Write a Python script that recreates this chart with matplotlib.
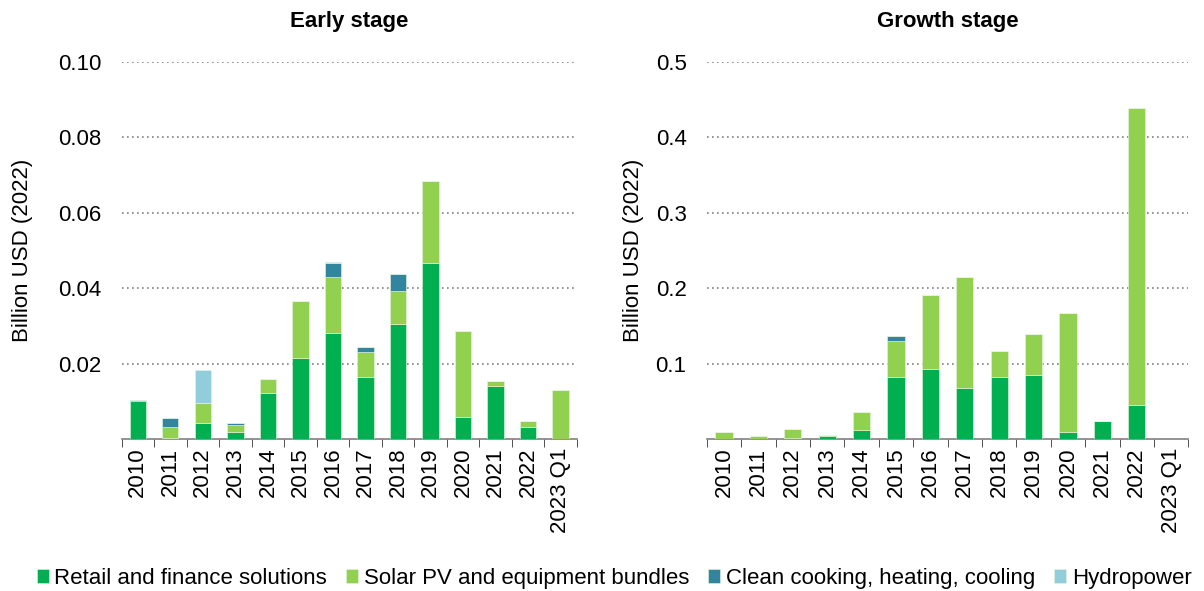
import matplotlib.pyplot as plt
import numpy as np

plt.rcParams['font.family'] = ['Liberation Sans', 'DejaVu Sans']

years = ['2010', '2011', '2012', '2013', '2014', '2015', '2016', '2017',
         '2018', '2019', '2020', '2021', '2022', '2023 Q1']

# Early stage (billion USD 2022)
early_retail = [0.0100, 0.0004, 0.0042, 0.0018, 0.0122, 0.0216, 0.0282, 0.0166,
                0.0306, 0.0468, 0.0058, 0.0140, 0.0032, 0.0]
early_solar = [0.0, 0.0029, 0.0053, 0.0020, 0.0038, 0.0150, 0.0147, 0.0064,
               0.0088, 0.0216, 0.0229, 0.0015, 0.0017, 0.0130]
early_clean = [0.0005, 0.0024, 0.0, 0.0005, 0.0, 0.0, 0.0038, 0.0015,
               0.0045, 0.0, 0.0, 0.0, 0.0, 0.0]
early_hydro = [0.0, 0.0, 0.0088, 0.0, 0.0, 0.0, 0.0002, 0.0,
               0.0, 0.0, 0.0, 0.0, 0.0, 0.0]

# Growth stage
growth_retail = [0.0, 0.0005, 0.001, 0.0035, 0.0115, 0.0826, 0.0932, 0.0672,
                 0.0826, 0.0853, 0.0088, 0.0239, 0.0446, 0.0]
growth_solar = [0.0093, 0.003, 0.013, 0.0013, 0.024, 0.047, 0.0973, 0.1476,
                0.0336, 0.0547, 0.159, 0.0, 0.3944, 0.0]
growth_clean = [0.0, 0.0, 0.0, 0.0, 0.0, 0.0066, 0.0, 0.0,
                0.0, 0.0, 0.0, 0.0, 0.0, 0.0]
growth_hydro = [0.0] * 14

series_names = ['Retail and finance solutions', 'Solar PV and equipment bundles',
                'Clean cooking, heating, cooling', 'Hydropower']
colors = ['#00B050', '#92D050', '#31859C', '#92CDDC']

fig = plt.figure(figsize=(12.04, 5.91), dpi=100)
ax1 = fig.add_axes([0.101, 0.257, 0.378, 0.638])
ax2 = fig.add_axes([0.587, 0.257, 0.400, 0.638])

panels = [
    (ax1, 'Early stage', [early_retail, early_solar, early_clean, early_hydro],
     [0.02, 0.04, 0.06, 0.08, 0.10], ['0.02', '0.04', '0.06', '0.08', '0.10'], 0.10, 18),
    (ax2, 'Growth stage', [growth_retail, growth_solar, growth_clean, growth_hydro],
     [0.1, 0.2, 0.3, 0.4, 0.5], ['0.1', '0.2', '0.3', '0.4', '0.5'], 0.5, 8.5),
]

x = np.arange(len(years))
for ax, title, data, yt, ytl, ymax, lpad in panels:
    bottom = np.zeros(len(years))
    for vals, name, c in zip(data, series_names, colors):
        ax.bar(x, vals, width=0.5, bottom=bottom, color=c, label=name,
               edgecolor='#e8f5e0', linewidth=0.4, zorder=3)
        bottom += np.array(vals)
    ax.set_xlim(-0.5, len(years) - 0.5)
    ax.set_ylim(0, ymax)
    ax.set_yticks(yt)
    ax.set_yticklabels(ytl, fontsize=16)
    ax.yaxis.grid(True, linestyle=(0, (1, 2)), color='#808080', linewidth=1.2, zorder=0)
    ax.tick_params(axis='y', length=0, pad=14.5)
    ax.set_xticks(x)
    ax.set_xticklabels(years, rotation=90, fontsize=16)
    ax.set_xticks(np.arange(-0.5, len(years), 1.0), minor=True)
    ax.tick_params(axis='x', which='major', length=0, pad=6)
    ax.tick_params(axis='x', which='minor', length=6, color='#333333', direction='out')
    for s in ['top', 'right', 'left']:
        ax.spines[s].set_visible(False)
    ax.spines['bottom'].set_color('#808080')
    ax.spines['bottom'].set_linewidth(1.2)
    ax.set_ylabel('Billion USD (2022)', fontsize=16, labelpad=lpad)
    ax.set_title(title, fontsize=16, fontweight='bold', pad=25)

handles, labels = ax1.get_legend_handles_labels()
fig.legend(handles, labels, loc='lower center', ncol=4, fontsize=16, frameon=False,
           bbox_to_anchor=(0.51, -0.03), handlelength=0.55, handleheight=0.55,
           handletextpad=0.25, columnspacing=0.85)

fig.savefig('out.png', dpi=100)
